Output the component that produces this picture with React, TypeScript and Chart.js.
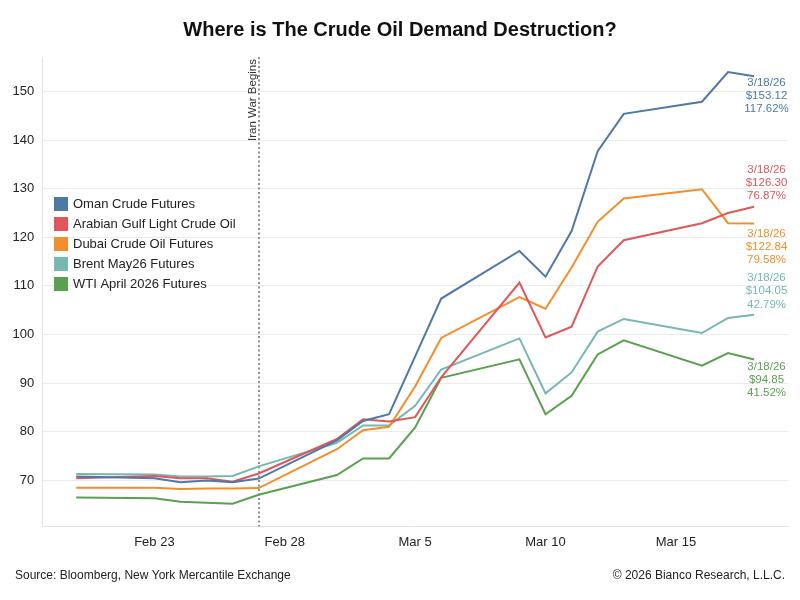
import React, { useEffect, useRef } from "react";
import { Chart, registerables } from "chart.js";

Chart.register(...registerables);

// Trading days, counted as day-of-February (Mar 2 = 30, Mar 18 = 46)
const tradingDays = [20, 23, 24, 25, 26, 27, 30, 31, 32, 33, 34, 37, 38, 39, 40, 41, 44, 45, 46];

const seriesNames = [
  "Oman Crude Futures",
  "Arabian Gulf Light Crude Oil",
  "Dubai Crude Oil Futures",
  "Brent May26 Futures",
  "WTI April 2026 Futures",
];

const omanCrude = [70.8, 70.45, 69.6, 69.95, 69.6, 70.36, 78.2, 82.2, 83.6, 95.5, 107.4, 117.2, 111.9, 121.3, 137.7, 145.4, 147.9, 154.0, 153.12];
const arabianGulfLight = [70.45, 70.9, 70.45, 70.45, 69.7, 71.41, 78.5, 82.55, 82.1, 83.0, 91.2, 110.7, 99.4, 101.6, 114.0, 119.4, 122.9, 125.0, 126.3];
const dubaiCrude = [68.45, 68.45, 68.2, 68.3, 68.3, 68.4, 76.4, 80.3, 81.0, 89.3, 99.3, 107.7, 105.3, 113.8, 123.2, 128.0, 129.9, 122.9, 122.84];
const brentMay26 = [71.3, 71.2, 70.8, 70.8, 70.9, 72.87, 77.7, 81.3, 81.3, 85.35, 92.8, 99.2, 87.9, 92.2, 100.6, 103.2, 100.3, 103.4, 104.05];
const wtiApril26 = [66.45, 66.3, 65.6, 65.4, 65.2, 67.02, 71.1, 74.5, 74.5, 80.9, 91.1, 94.9, 83.6, 87.4, 95.9, 98.8, 93.6, 96.2, 94.85];

const pctChanges = [117.62, 76.87, 79.58, 42.79, 41.52];
const lastDateLabel = "3/18/26";

const xTickDays = [23, 28, 33, 38, 43];
const xTickLabels = ["Feb 23", "Feb 28", "Mar 5", "Mar 10", "Mar 15"];
const yTickValues = [70, 80, 90, 100, 110, 120, 130, 140, 150];

const warStartDay = 27;
const warLabel = "Iran War Begins";
const chartTitle = "Where is The Crude Oil Demand Destruction?";
const sourceText = "Source: Bloomberg, New York Mercantile Exchange";
const copyrightText = "\u00A9 2026 Bianco Research, L.L.C.";

// styles
const colors = ["#4E79A7", "#E15759", "#F28E2B", "#76B7B2", "#59A14F"];
const endLabelOffsets = [6, -37, 10, -37, 7];
const FONT = "'Liberation Sans', Arial, sans-serif";

const allSeries = [omanCrude, arabianGulfLight, dubaiCrude, brentMay26, wtiApril26];

const overlayPlugin = {
  id: "overlay",
  beforeDatasetsDraw(chart: any) {
    const { ctx, chartArea, scales } = chart;
    const x = Math.round(scales.x.getPixelForValue(warStartDay));
    ctx.save();
    ctx.strokeStyle = "#8f8f8f";
    ctx.lineWidth = 2;
    ctx.setLineDash([2, 2.5]);
    ctx.beginPath();
    ctx.moveTo(x, chartArea.top);
    ctx.lineTo(x, chartArea.bottom);
    ctx.stroke();
    ctx.restore();

    ctx.save();
    ctx.translate(x - 3, chartArea.top + 2);
    ctx.rotate(-Math.PI / 2);
    ctx.font = `11.5px ${FONT}`;
    ctx.fillStyle = "#333333";
    ctx.textAlign = "right";
    ctx.textBaseline = "alphabetic";
    ctx.fillText(warLabel, 0, 0);
    ctx.restore();
  },
  afterDraw(chart: any) {
    const { ctx, scales } = chart;
    ctx.save();
    // title
    ctx.font = `bold 20px ${FONT}`;
    ctx.fillStyle = "#111111";
    ctx.textAlign = "center";
    ctx.textBaseline = "middle";
    ctx.fillText(chartTitle, 400, 30);

    // footer
    ctx.font = `12px ${FONT}`;
    ctx.fillStyle = "#222222";
    ctx.textAlign = "left";
    ctx.fillText(sourceText, 15, 576);
    ctx.textAlign = "right";
    ctx.fillText(copyrightText, 785, 576);

    // legend
    seriesNames.forEach((name, i) => {
      const cy = 204 + i * 20;
      ctx.fillStyle = colors[i];
      ctx.fillRect(54, cy - 7, 14, 14);
      ctx.fillStyle = "#222222";
      ctx.font = `13px ${FONT}`;
      ctx.textAlign = "left";
      ctx.textBaseline = "middle";
      ctx.fillText(name, 73, cy);
    });

    // end labels
    chart.data.datasets.forEach((ds: any, i: number) => {
      const last = ds.data[ds.data.length - 1].y;
      const py = scales.y.getPixelForValue(last) + endLabelOffsets[i];
      const lines = [lastDateLabel, `$${last.toFixed(2)}`, `${pctChanges[i].toFixed(2)}%`];
      ctx.font = `11.5px ${FONT}`;
      ctx.fillStyle = colors[i];
      ctx.textAlign = "center";
      ctx.textBaseline = "middle";
      lines.forEach((t, k) => ctx.fillText(t, 766.5, py + k * 13.3));
    });
    ctx.restore();
  },
};

export default function App() {
  const ref = useRef<HTMLCanvasElement | null>(null);

  useEffect(() => {
    document.body.style.margin = "0";
    const canvas = ref.current;
    if (!canvas) return;
    Chart.defaults.font.family = FONT;

    const datasets = allSeries.map((vals, i) => ({
      label: seriesNames[i],
      data: vals.map((v, j) => ({ x: tradingDays[j], y: v })),
      borderColor: colors[i],
      backgroundColor: colors[i],
      borderWidth: 2,
      pointRadius: 0,
      tension: 0,
      fill: false,
    }));

    const chart = new Chart(canvas, {
      type: "line",
      data: { datasets },
      options: {
        animation: false,
        responsive: false,
        devicePixelRatio: 1,
        layout: { padding: { top: 57, right: 12, left: 0, bottom: 0 } },
        plugins: {
          legend: { display: false },
          title: { display: false },
          tooltip: { enabled: false },
        },
        scales: {
          x: {
            type: "linear",
            min: 18.7,
            max: 47.3,
            grid: { display: false, drawTicks: false },
            border: { display: true, color: "#e2e2e2", width: 1 },
            ticks: {
              font: { size: 13, family: FONT },
              color: "#222222",
              padding: 8,
              maxRotation: 0,
              autoSkip: false,
              callback: (v: any) => {
                const idx = xTickDays.indexOf(Number(v));
                return idx >= 0 ? xTickLabels[idx] : "";
              },
            },
            afterBuildTicks: (s: any) => {
              s.ticks = xTickDays.map((v) => ({ value: v }));
            },
            afterFit: (s: any) => {
              s.height = 73.5;
            },
          },
          y: {
            type: "linear",
            min: 60.5,
            max: 157.1,
            grid: { color: "#ebebeb", drawTicks: false, lineWidth: 1 },
            border: { display: true, color: "#e2e2e2", width: 1 },
            ticks: {
              font: { size: 13, family: FONT },
              color: "#222222",
              padding: 8,
              autoSkip: false,
            },
            afterBuildTicks: (s: any) => {
              s.ticks = yTickValues.map((v) => ({ value: v }));
            },
            afterFit: (s: any) => {
              s.width = 42.3;
            },
          },
        },
      },
      plugins: [overlayPlugin],
    } as any);

    return () => chart.destroy();
  }, []);

  return (
    <div style={{ position: "fixed", left: 0, top: 0, width: 800, height: 600, background: "#ffffff" }}>
      <canvas ref={ref} width={800} height={600} />
    </div>
  );
}
